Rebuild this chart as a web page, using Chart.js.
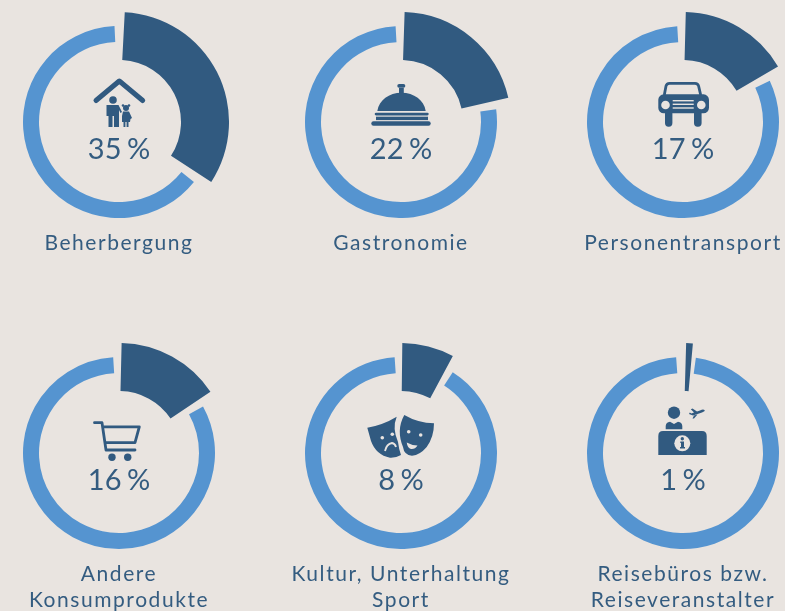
<!DOCTYPE html>
<html lang="de">
<head>
<meta charset="utf-8">
<title>Ausgaben</title>
<script src="https://cdn.jsdelivr.net/npm/chart.js@4"></script>
<style>
  html, body { margin: 0; padding: 0; background: #e9e4e0; }
  #page { position: relative; width: 785px; height: 611px; overflow: hidden; font-family: Lato, sans-serif; color: #345c80; }
  canvas { position: absolute; }
  svg { position: absolute; left: 0; top: 0; }
  .pct, .name { position: absolute; width: 260px; text-align: center; white-space: pre-line; }
  .pct { font-size: 29px; line-height: 34px; word-spacing: -2px; }
  .name { font-size: 21px; line-height: 26px; letter-spacing: 1.55px; }
</style>
</head>
<body>
<div id="page">
  <svg width="785" height="611" fill="#315a80" stroke="none">
    <!-- house -->
    <path d="M96 100.5 L119.3 81 L142.7 100.5" fill="none" stroke="#315a80" stroke-width="5" stroke-linecap="round" stroke-linejoin="round"/>
    <circle cx="113" cy="100" r="3.8"/>
    <path d="M106.5 105 H118.5 L122 112 L120.5 113 L119 110 V127 H114 V116 H112.5 V127 H108.5 V116 H106.5 Z"/>
    <circle cx="126" cy="108" r="3"/><circle cx="123" cy="105.5" r="1.3"/><circle cx="129" cy="105.5" r="1.3"/>
    <path d="M123 111.5 H129 L132 118 L130.5 119 L130 122 H128.5 V127 H126.6 V122 H125.4 V127 H123.5 V122 H122 L122 116 Z"/>
    <!-- bell -->
    <rect x="397.3" y="84" width="8" height="3.7" rx="1.8"/>
    <rect x="399" y="88" width="4.8" height="5"/>
    <path d="M377.3 111 C379 100 389 92.7 401.5 92.7 C414 92.7 424 100 425.7 111 Z"/>
    <rect x="374.7" y="112.7" width="54" height="2.8" rx="1.4"/>
    <rect x="376" y="116.7" width="52" height="3.4"/>
    <rect x="371.3" y="121.3" width="59.4" height="4.4" rx="2.2"/>
    <!-- car -->
    <path d="M664.3 95 L666 86 Q666.6 83.3 669.5 83.3 H695 Q698 83.3 698.6 86 L700.7 95" fill="none" stroke="#315a80" stroke-width="2.8"/>
    <rect x="658.3" y="94.3" width="50.7" height="19" rx="5.5"/>
    <rect x="665" y="110" width="7.4" height="16.7" rx="3.6"/>
    <rect x="694" y="110" width="7.6" height="16.7" rx="3.6"/>
    <g fill="#e9e4e0">
      <circle cx="665.5" cy="105" r="4.3"/><circle cx="701.3" cy="105" r="4.3"/>
      <rect x="672.7" y="100" width="21" height="1.4"/><rect x="672.7" y="103.6" width="21" height="1.4"/><rect x="672.7" y="107.3" width="21" height="1.4"/>
    </g>
    <!-- cart -->
    <path d="M94.5 422.7 H102 L106 450 H135" fill="none" stroke="#315a80" stroke-width="2.8" stroke-linecap="round" stroke-linejoin="round"/>
    <path d="M103.5 426.8 H139.3 L135 442.7 H105.5" fill="none" stroke="#315a80" stroke-width="2.8" stroke-linejoin="round"/>
    <circle cx="112" cy="457.3" r="3.7"/><circle cx="127.7" cy="457.3" r="3.7"/>
    <!-- masks -->
    <path d="M367.3 427.7 Q383 425 396.7 416.7 Q392 428 398 442 Q399 450 401 455 Q396 458 390 457.7 Q376 455 371 441 Z"/>
    <path d="M404.3 415 Q418 423 434 423.3 Q434 437 426.7 447 Q420 455 412 455.7 Q404 455 403 447 Q396 430 404.3 415 Z"/>
    <g fill="#e9e4e0">
      <circle cx="382.3" cy="437.7" r="1.8"/><circle cx="392.3" cy="434.3" r="1.8"/>
      <circle cx="408.7" cy="431.7" r="1.8"/><circle cx="420.7" cy="435" r="1.8"/>
      <path d="M406.7 442.5 Q412 445.5 417.5 445.5 Q415 449.5 411 449 Q407.5 448 406.7 442.5 Z"/>
    </g>
    <path d="M385 451 Q386.5 444 392 443 Q395 443.5 396 447" fill="none" stroke="#e9e4e0" stroke-width="1.8"/>
    <!-- info desk -->
    <circle cx="674" cy="412.7" r="6.2"/>
    <path d="M665.7 429.3 V426 Q666 422 670 421.7 L674 424 L678 421.7 Q682 422 682.3 426 V429.3 Z"/>
    <path d="M658.3 455 V436 Q658.3 431 663 431 H702 Q706.7 431 706.7 436 V455 Z"/>
    <circle cx="682.3" cy="443.3" r="8" fill="#e9e4e0"/>
    <circle cx="682.3" cy="438.8" r="1.7"/>
    <path d="M680.3 441.6 H684 V447 H685 V448.6 H680 V447 H681 V443 H680.3 Z"/>
    <path d="M689 414 L693 415.5 L702 412.5 Q705.5 411 704.5 410 Q703 409 700 410.5 L697 411.5 L692.5 408.5 L690.8 409.2 L694 412.5 L691.5 413.5 L689.8 412.6 Z M694 415.5 L697.5 414.5 L694 418.5 L692.5 418.5 Z"/>
  </svg>
</div>
<script>
// share per category
var categories = ["Beherbergung", "Gastronomie", "Personentransport", "Andere\nKonsumprodukte", "Kultur, Unterhaltung\nSport", "Reisebüros bzw.\nReiseveranstalter"];
var shares = [35, 22, 17, 16, 8, 1];

var columnX = [119, 401, 683];
var rowY = [122, 453];
var darkBlue = "#315a80";
var lightBlue = "#5594d0";
var page = document.getElementById("page");

// arcs are drawn spacing/2 further out than the chart computes, so the hole is given that much short
function addDonut(cx, cy, share, radius, hole, colors, gap, turn) {
  var size = radius * 2;
  var canvas = document.createElement("canvas");
  canvas.width = size;
  canvas.height = size;
  canvas.style.left = (cx - radius) + "px";
  canvas.style.top = (cy - radius) + "px";
  page.appendChild(canvas);
  new Chart(canvas.getContext("2d"), {
    type: "doughnut",
    data: {
      labels: ["Anteil", "Rest"],
      datasets: [{ data: [share, 100 - share], backgroundColor: colors, borderWidth: 0, spacing: gap }]
    },
    options: {
      responsive: false,
      animation: false,
      cutout: hole - gap / 2,
      rotation: turn,
      plugins: { legend: { display: false }, tooltip: { enabled: false } }
    }
  });
}

function addText(cls, text, cx, top) {
  var el = document.createElement("div");
  el.className = cls;
  el.textContent = text;
  el.style.left = (cx - 130) + "px";
  el.style.top = top + "px";
  page.appendChild(el);
}

shares.forEach(function(share, i) {
  var cx = columnX[i % 3];
  var cy = rowY[Math.floor(i / 3)];
  addDonut(cx, cy, share, 96, 80, ["transparent", lightBlue], 4, 0);
  // the 1 % sliver needs less spacing or it stops tapering
  if (share < 2) addDonut(cx, cy, share, 110, 62, [darkBlue, "transparent"], 4, 1.6);
  else addDonut(cx, cy, share, 110, 62, [darkBlue, "transparent"], 8, 0);
  addText("pct", share + " %", cx, cy + 9);
  addText("name", categories[i], cx, cy + 107);
});
</script>
</body>
</html>
